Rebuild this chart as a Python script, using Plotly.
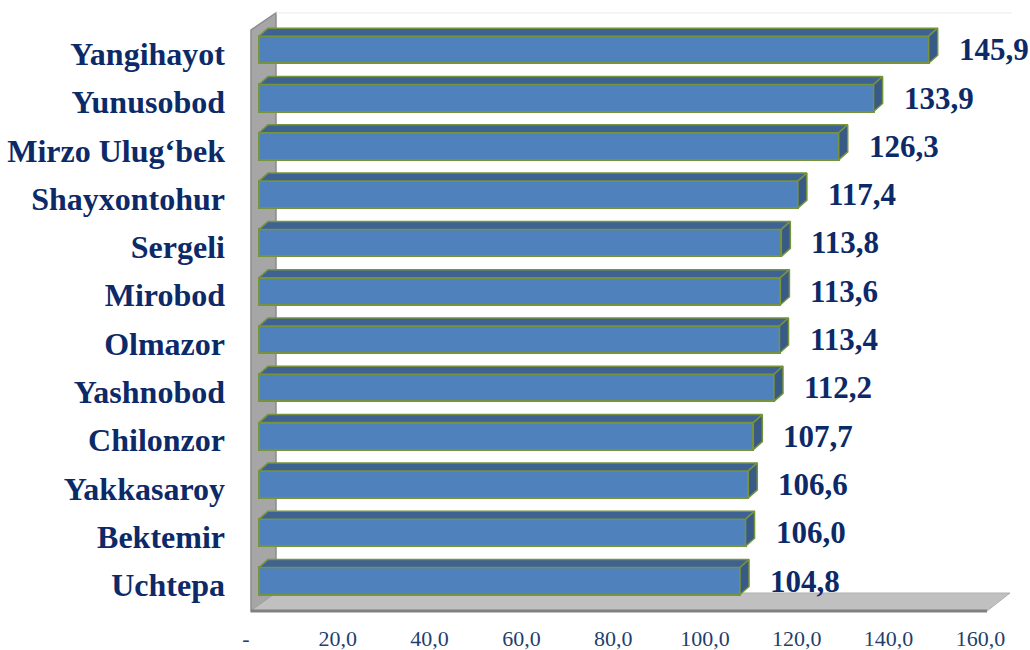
import plotly.graph_objects as go

# ---- data (bottom to top) ----
districts = ["Uchtepa", "Bektemir", "Yakkasaroy", "Chilonzor", "Yashnobod", "Olmazor",
             "Mirobod", "Sergeli", "Shayxontohur", "Mirzo Ulug\u2018bek", "Yunusobod", "Yangihayot"]
values = [104.8, 106.0, 106.6, 107.7, 112.2, 113.4, 113.6, 113.8, 117.4, 126.3, 133.9, 145.9]
x_ticks = [0, 20, 40, 60, 80, 100, 120, 140, 160]
x_tick_text = ["-", "20,0", "40,0", "60,0", "80,0", "100,0", "120,0", "140,0", "160,0"]

# ---- geometry (pixel layout) ----
W, H = 1030, 650
S = 4.59          # px per unit on bar front plane
X0 = 259          # px of value 0 on bar front plane
D = 48.3          # px per category
K0 = 581          # px (from top) of first category centre
PL, PR, PT, PB = 240, 1016, 10, 615

def dx(px):
    return (px - X0) / S

def ky(py):
    return (K0 - py) / D

xr = [dx(PL), dx(PR)]
yr = [ky(PB), ky(PT)]

half = 0.28
ddx = 9 / S
ddy = 8 / D

FRONT = "#4F81BD"
TOP = "#3E6292"
SIDE = "#375A86"
EDGE = "#77933C"
NAVY = "#0D2A68"

fig = go.Figure()

def path(pts):
    return "M " + " L ".join(f"{dx(a)},{ky(b)}" for a, b in pts) + " Z"

fig.add_shape(type="path", xref="x", yref="y", layer="below",
              path=path([(251, 611), (251, 30), (276, 13), (276, 593)]),
              fillcolor="#A6A6A6", line=dict(color="#8C8C8C", width=1.5))
fig.add_shape(type="path", xref="x", yref="y", layer="below",
              path=path([(251, 611), (276, 593), (1010, 593), (987, 611)]),
              fillcolor="#C0C0C0", line=dict(color="#B0B0B0", width=1))
fig.add_shape(type="line", xref="x", yref="y", layer="below",
              x0=dx(251), y0=ky(611), x1=dx(987), y1=ky(611),
              line=dict(color="#808080", width=3))
fig.add_shape(type="line", xref="x", yref="y", layer="below",
              x0=dx(276), y0=ky(13), x1=dx(1012), y1=ky(13),
              line=dict(color="#EBEBEB", width=1))

ks = list(range(len(districts)))

fig.add_trace(go.Bar(orientation="h", x=values, y=ks, width=2 * half,
                     marker=dict(color=FRONT, line=dict(color=EDGE, width=2)),
                     hoverinfo="skip", showlegend=False))

tx, ty, sx, sy = [], [], [], []
for k, v in zip(ks, values):
    tx += [0, v, v + ddx, ddx, 0, None]
    ty += [k + half, k + half, k + half + ddy, k + half + ddy, k + half, None]
    sx += [v, v, v + ddx, v + ddx, v, None]
    sy += [k - half, k + half, k + half + ddy, k - half + ddy, k - half, None]

fig.add_trace(go.Scatter(x=tx, y=ty, mode="lines", fill="toself", fillcolor=TOP,
                         line=dict(color=EDGE, width=1.5), hoverinfo="skip", showlegend=False))
fig.add_trace(go.Scatter(x=sx, y=sy, mode="lines", fill="toself", fillcolor=SIDE,
                         line=dict(color=EDGE, width=1.5), hoverinfo="skip", showlegend=False))

for k, v in zip(ks, values):
    fig.add_annotation(x=v, y=k, xref="x", yref="y", text=f"{v:.1f}".replace(".", ","),
                       showarrow=False, xanchor="left", xshift=28,
                       font=dict(family="Liberation Serif", size=31, color=NAVY, weight="bold"))

fig.update_layout(
    width=W, height=H, autosize=False,
    margin=dict(l=PL, r=W - PR, t=PT, b=H - PB, autoexpand=False),
    paper_bgcolor="white", plot_bgcolor="white",
    xaxis=dict(range=xr, tickvals=x_ticks, ticktext=x_tick_text, showgrid=False,
               zeroline=False, showline=False, ticks="", ticklabelshift=-13,
               ticklabelstandoff=8, automargin=False,
               tickfont=dict(family="Liberation Serif", size=22, color="#1F3F6E")),
    yaxis=dict(range=yr, tickvals=ks, ticktext=districts, showgrid=False,
               zeroline=False, showline=False, ticks="", ticklabelshift=4,
               ticklabelstandoff=14, automargin=False,
               tickfont=dict(family="Liberation Serif", size=32, color=NAVY, weight="bold")),
    bargap=0,
)

fig.write_html("out.html", config={"displayModeBar": False},
               post_script="document.body.style.margin='0';document.body.style.overflow='hidden';")
